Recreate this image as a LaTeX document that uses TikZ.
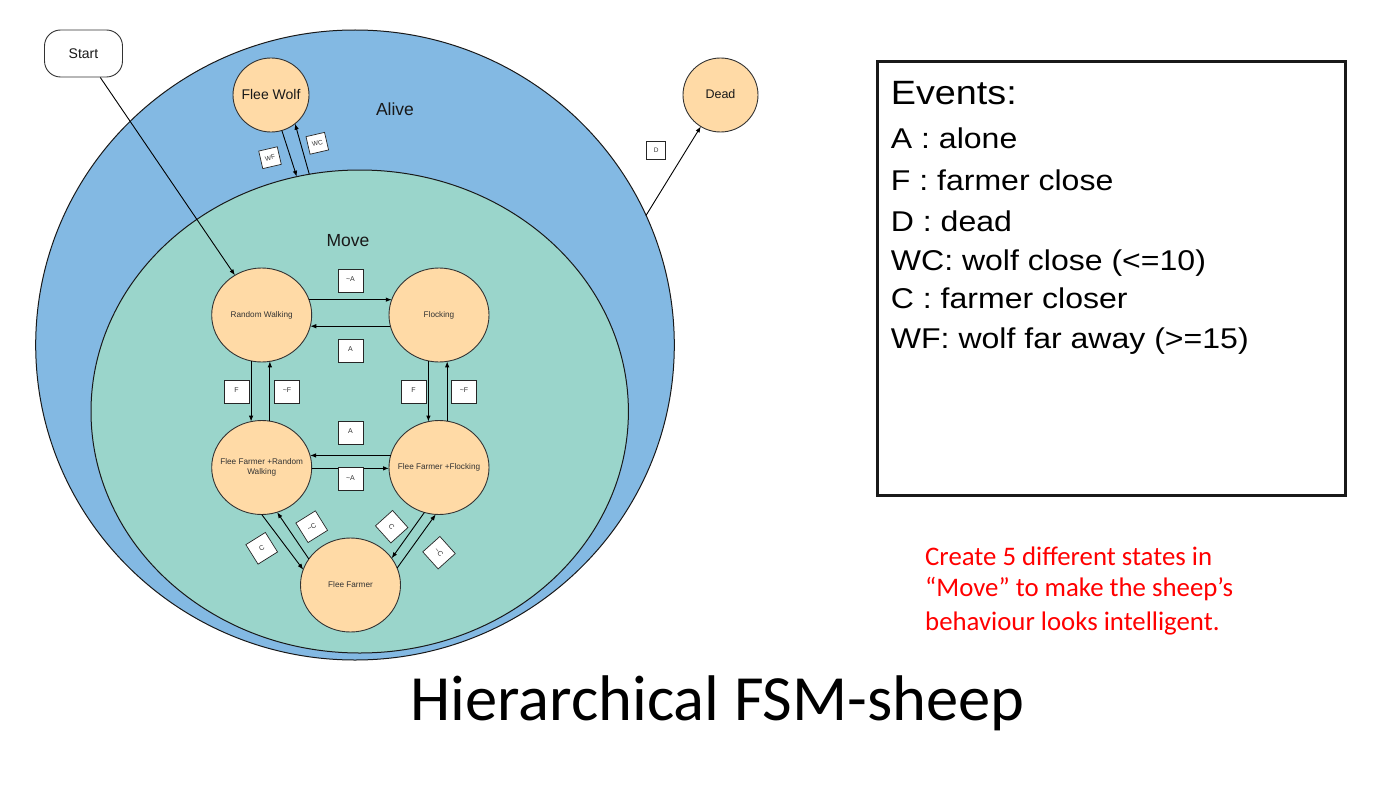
\documentclass[tikz,border=0pt]{standalone}
\usepackage{fontspec}
\setmainfont{Liberation Sans}
\newfontfamily\evfont[FakeStretch=1.12]{Liberation Sans}
\newfontfamily\calib{Carlito}
\usetikzlibrary{shapes.geometric,arrows.meta}
\definecolor{aliveblue}{RGB}{131,185,227}
\definecolor{moveteal}{RGB}{154,213,203}
\definecolor{peach}{RGB}{255,218,166}
\definecolor{txtgray}{RGB}{51,51,51}
\definecolor{redtxt}{RGB}{255,0,0}
\begin{document}
\begin{tikzpicture}[x=1pt,y=-1pt,
  region/.style={ellipse, draw=black!90, line width=1pt, inner sep=0pt, outer sep=0pt},
  fsmstate/.style={ellipse, draw=txtgray, line width=0.9pt, fill=peach, inner sep=0pt, outer sep=0pt, minimum width=100pt, minimum height=94pt},
  stxt/.style={text=txtgray, font=\fontsize{8.2}{9.5}\selectfont, align=center, inner sep=0pt},
  trans/.style={draw=black, line width=0.9pt, -{Latex[length=6pt,width=4.5pt]}},
  evbox/.style={draw=black!85, line width=0.7pt, fill=white, inner sep=0pt, minimum width=25pt, minimum height=23pt, text=txtgray, font=\fontsize{7}{8}\selectfont},
  smallbox/.style={draw=black!85, line width=0.7pt, fill=white, inner sep=0pt, minimum width=19pt, minimum height=18pt, text=txtgray, font=\fontsize{6.5}{7}\selectfont},
  diagbox/.style={draw=black!85, line width=0.7pt, fill=white, inner sep=0pt, minimum width=23pt, minimum height=23pt, text=txtgray, font=\fontsize{7}{8}\selectfont},
  evline/.style={anchor=base west, inner sep=0pt, font=\evfont\fontsize{28.6}{32}\selectfont},
  redline/.style={anchor=base west, inner sep=0pt, text=redtxt, font=\calib\fontsize{26.8}{31}\selectfont}
]
\useasboundingbox (0,0) rectangle (1375,797);
\fill[white] (0,0) rectangle (1375,797);

% regions
\node[region, fill=aliveblue, minimum width=638.6pt, minimum height=630pt] (alive) at (355,345) {};
\node[region, fill=moveteal, minimum width=537.4pt, minimum height=483pt] (move) at (359.7,411.5) {};
\node[inner sep=0pt, font=\fontsize{17.5}{20}\selectfont, text=black!90] (alivelbl) at (395,109) {Alive};
\node[inner sep=0pt, font=\fontsize{17.5}{20}\selectfont, text=black!90] (movelbl) at (348,241) {Move};

% outside states
\node[draw=txtgray, line width=0.9pt, fill=white, rounded corners=16pt, minimum width=78pt, minimum height=47pt, inner sep=0pt, font=\fontsize{14}{16}\selectfont, text=black!90] (start) at (83.5,53.5) {Start};
\node[fsmstate, minimum width=76pt, minimum height=74pt] (fw) at (271,95) {};
\node[inner sep=0pt, font=\fontsize{14}{16}\selectfont, text=black!90] (fwlbl) at (271,94) {Flee Wolf};
\node[fsmstate, minimum width=75pt, minimum height=74pt] (dead) at (720.5,95) {};
\node[inner sep=0pt, font=\fontsize{12.5}{14}\selectfont, text=black!90] (deadlbl) at (720.5,94) {Dead};

% move states
\node[fsmstate, label={[stxt]center:Random Walking}] (rw) at (261.7,315) {};
\node[fsmstate, label={[stxt]center:Flocking}] (fl) at (439,315) {};
\node[fsmstate, label={[stxt]center:{Flee Farmer +Random\\Walking}}] (ffrw) at (261.7,467.5) {};
\node[fsmstate, label={[stxt]center:Flee Farmer +Flocking}] (fff) at (439,467.5) {};
\node[fsmstate, label={[stxt]center:Flee Farmer}] (ff) at (350.5,585) {};

% transitions
\draw[trans] (start.-55) -- (rw.124);
\draw[trans] (fw.-73) -- (move.105.9);
\draw[trans] (move.102.5) -- (fw.-50.4);
\draw[trans] (alive.24) -- (dead.-122.5);

\draw[trans] (rw.18) -- (fl.162);
\draw[trans] (fl.-167) -- (rw.-13);
\draw[trans] (rw.-103) -- (ffrw.103);
\draw[trans] (ffrw.80) -- (rw.-80);
\draw[trans] (fl.-103) -- (fff.103);
\draw[trans] (fff.80) -- (fl.-80);
\draw[trans] (fff.166) -- (ffrw.14);
\draw[trans] (ffrw.-1) -- (fff.181);
\draw[trans] (ffrw.-90) -- (ff.162);
\draw[trans] (ff.148) -- (ffrw.-71.5);
\draw[trans] (fff.-108) -- (ff.33.5);
\draw[trans] (ff.20.6) -- (fff.-94.8);

% labels
\node[evbox] (lnA1) at (350.5,280.5) {\raisebox{2.5pt}{\textasciitilde A}};
\node[evbox] (lA1) at (350.5,350.5) {\raisebox{2.5pt}{A}};
\node[evbox] (lF1) at (236.5,391.5) {\raisebox{2.5pt}{F}};
\node[evbox] (lnF1) at (287,391.5) {\raisebox{2.5pt}{\textasciitilde F}};
\node[evbox] (lF2) at (413.5,391.5) {\raisebox{2.5pt}{F}};
\node[evbox] (lnF2) at (464,391.5) {\raisebox{2.5pt}{\textasciitilde F}};
\node[evbox] (lA2) at (350.5,432.5) {\raisebox{2.5pt}{A}};
\node[evbox] (lnA2) at (350.5,479) {\raisebox{2.5pt}{\textasciitilde A}};
\node[diagbox, rotate=32] (lC1) at (261.7,548.3) {C};
\node[diagbox, rotate=32] (lnC1) at (311.7,526.7) {\textasciitilde C};
\node[diagbox, rotate=-48] (lC2) at (391.7,526.7) {C};
\node[diagbox, rotate=-48] (lnC2) at (439,552.7) {\textasciitilde C};
\node[smallbox, rotate=13] (lWF) at (270,157.7) {WF};
\node[smallbox, rotate=13] (lWC) at (317.3,143.3) {WC};
\node[smallbox] (lD) at (656.3,150.8) {\raisebox{1.5pt}{D}};

% events box
\node[draw=black!90, line width=3pt, minimum width=468pt, minimum height=433pt, inner sep=0pt] (events) at (1111.5,278.5) {};
\node[evline, font=\evfont\fontsize{33.7}{38}\selectfont] (ev0) at (890.7,105) {Events:};
\node[evline] (ev1) at (890.7,148.3) {A : alone};
\node[evline] (ev2) at (890.7,190) {F : farmer close};
\node[evline] (ev3) at (890.7,231.7) {D : dead};
\node[evline] (ev4) at (890.7,270) {WC: wolf close (<=10)};
\node[evline] (ev5) at (890.7,308.3) {C : farmer closer};
\node[evline] (ev6) at (890.7,348.3) {WF: wolf far away (>=15)};

% red note
\node[redline] (r1) at (925,565) {Create 5 different states in};
\node[redline] (r2) at (925,596.7) {“Move” to make the sheep’s};
\node[redline] (r3) at (925,630) {behaviour looks intelligent.};

% title
\node[anchor=base, inner sep=0pt, font=\calib\fontsize{64.5}{70}\selectfont] (title) at (717.5,720) {Hierarchical FSM-sheep};
\end{tikzpicture}
\end{document}
